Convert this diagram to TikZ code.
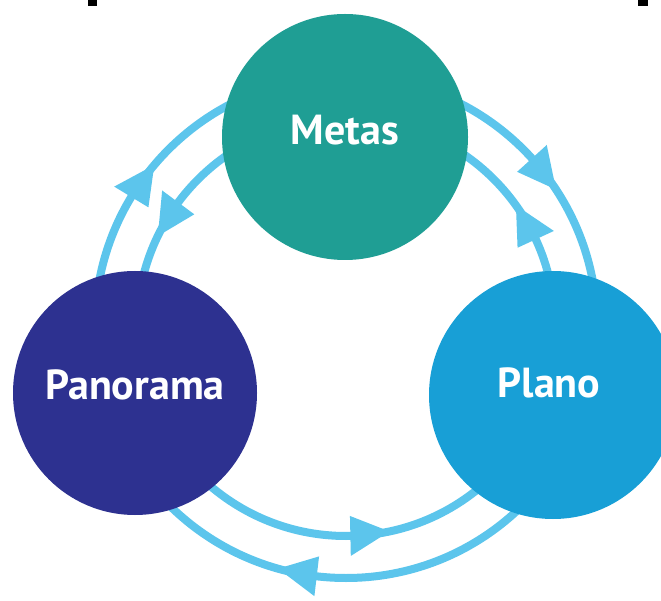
\documentclass[tikz,border=0pt]{standalone}
\usepackage{fontspec}
\setmainfont{PT Sans}
\definecolor{metasc}{HTML}{1F9E94}
\definecolor{panc}{HTML}{2D3190}
\definecolor{planoc}{HTML}{189FD6}
\definecolor{ringc}{HTML}{5CC5EC}
\tikzset{
  nodedisc/.style={circle, inner sep=0pt, draw=none},
  lbltext/.style={text=white, font=\bfseries\fontsize{42}{42}\selectfont, inner sep=0pt, anchor=base},
  ringline/.style={draw=ringc, line width=8pt},
  arrowtri/.style={fill=ringc, draw=none},
  blackmark/.style={fill=black, draw=none}
}
\begin{document}
\begin{tikzpicture}[x=1pt,y=1pt]
\useasboundingbox (0,0) rectangle (661,600);
\clip (0,0) rectangle (661,600);
\fill[white] (0,0) rectangle (661,600);
\fill[blackmark] (88,594) rectangle (97,600);
\fill[blackmark] (638,594) rectangle (648,600);
\coordinate (rc) at (346,273);
% rings
\draw[ringline] (rc) circle[radius=251];
\draw[ringline] (rc) circle[radius=209];
% arrow heads
\begin{scope}[shift={(rc)}]
  % outer ring, clockwise
  \fill[arrowtri] (148.8:271) -- (139.8:251) -- (148.8:231) -- cycle;
  \fill[arrowtri] (42.2:271) -- (33.2:251) -- (42.2:231) -- cycle;
  \fill[arrowtri] (-96.7:271) -- (-105.7:251) -- (-96.7:231) -- cycle;
  % inner ring, counterclockwise
  \fill[arrowtri] (143.4:229) -- (154.2:209) -- (143.4:189) -- cycle;
  \fill[arrowtri] (24.8:229) -- (35.6:209) -- (24.8:189) -- cycle;
  \fill[arrowtri] (-88.8:229) -- (-78.0:209) -- (-88.8:189) -- cycle;
\end{scope}
% circles
\node[nodedisc, fill=metasc, minimum size=246pt] (metas) at (345,463) {};
\node[nodedisc, fill=panc, minimum size=244pt] (pan) at (135,207) {};
\node[nodedisc, fill=planoc, minimum size=248pt] (plano) at (553,205) {};
% labels
\node[lbltext] (tmetas) at (345,455) {Metas};
\node[lbltext] (tpan) at (135,200) {Panorama};
\node[lbltext] (tplano) at (549,202) {Plano};
\end{tikzpicture}
\end{document}
